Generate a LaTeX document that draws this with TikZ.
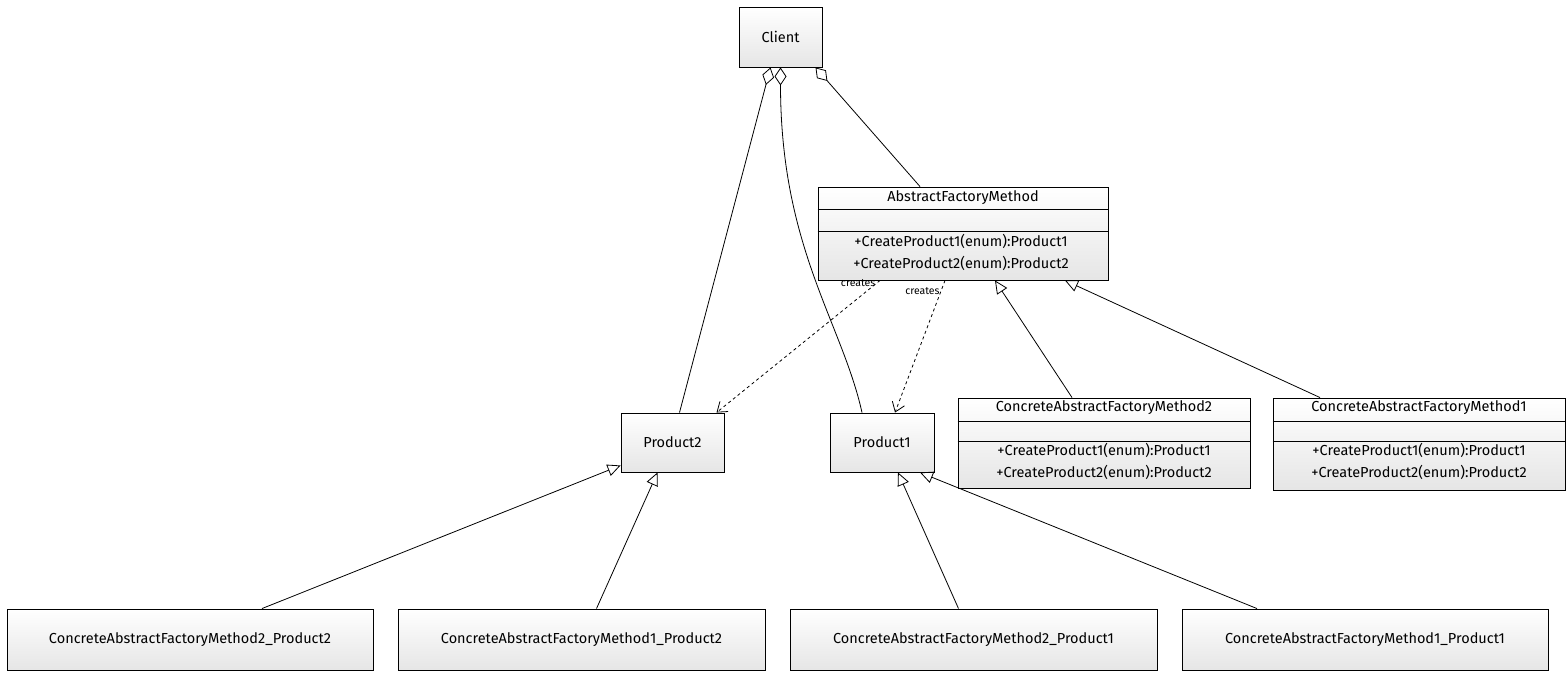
\documentclass[tikz,border=0pt]{standalone}
\usepackage{fontspec}
\setmainfont{Fira Sans}
\usetikzlibrary{arrows.meta,calc}
\begin{document}
\begin{tikzpicture}[x=1pt,y=-1pt,
  box/.style={draw,line width=0.9pt,top color=white,bottom color=gray!20,rectangle,inner sep=0pt,font=\fontsize{14.5}{16}\selectfont},
  conn/.style={line width=0.8pt},
  agg/.style={conn,{Diamond[open,length=18pt,width=12pt]}-},
  gen/.style={conn,-{Triangle[open,length=13pt,width=12pt]}},
  dep/.style={conn,dashed,-{Straight Barb[length=9pt,width=13pt]}},
  lbl/.style={font=\fontsize{10.5}{12}\selectfont,inner sep=1pt}]
\useasboundingbox (0,0) rectangle (1568,675);
% simple boxes
\node[box,minimum width=83pt,minimum height=60pt] (client) at (780.5,37) {Client};
\node[box,minimum width=103pt,minimum height=59pt] (p2) at (672.5,442.5) {Product2};
\node[box,minimum width=104pt,minimum height=59pt] (p1) at (882,442.5) {Product1};
\node[box,minimum width=366pt,minimum height=61pt] (b1) at (190,639.5) {ConcreteAbstractFactoryMethod2\_Product2};
\node[box,minimum width=367pt,minimum height=61pt] (b2) at (581.5,639.5) {ConcreteAbstractFactoryMethod1\_Product2};
\node[box,minimum width=367pt,minimum height=61pt] (b3) at (973.5,639.5) {ConcreteAbstractFactoryMethod2\_Product1};
\node[box,minimum width=366pt,minimum height=61pt] (b4) at (1365,639.5) {ConcreteAbstractFactoryMethod1\_Product1};
% class boxes
\node[box,minimum width=290pt,minimum height=93pt] (afm) at (963,233.5) {};
\node[box,minimum width=292pt,minimum height=90pt] (c2) at (1104,443) {};
\node[box,minimum width=292pt,minimum height=92pt] (c1) at (1419,444) {};
\foreach \n/\a/\b in {afm/23/45, c2/24/44, c1/24/44}{
  \draw[line width=0.8pt] ($(\n.north west)+(0,\a)$) -- ($(\n.north east)+(0,\a)$);
  \draw[line width=0.8pt] ($(\n.north west)+(0,\b)$) -- ($(\n.north east)+(0,\b)$);
}
\begin{scope}[font=\fontsize{14.5}{16}\selectfont]
\node (afmt) at ($(afm.north)+(0,11)$) {AbstractFactoryMethod};
\node (afmo1) at ($(afm.north)+(-2,55)$) {+CreateProduct1(enum):Product1};
\node (afmo2) at ($(afm.north)+(-2,77)$) {+CreateProduct2(enum):Product2};
\node (c2t) at ($(c2.north)+(0,10)$) {ConcreteAbstractFactoryMethod2};
\node (c2o1) at ($(c2.north)+(0,53)$) {+CreateProduct1(enum):Product1};
\node (c2o2) at ($(c2.north)+(0,75)$) {+CreateProduct2(enum):Product2};
\node (c1t) at ($(c1.north)+(0,10)$) {ConcreteAbstractFactoryMethod1};
\node (c1o1) at ($(c1.north)+(0,53)$) {+CreateProduct1(enum):Product1};
\node (c1o2) at ($(c1.north)+(0,75)$) {+CreateProduct2(enum):Product2};
\end{scope}
% aggregations
\draw[agg] ($(client.south)+(-10,0)$) -- ($(p2.north)+(7,0)$);
\draw[agg] ($(client.south)+(0,0)$) .. controls ($(client.south)+(0,180)$) and ($(p1.north)+(-40,-90)$) .. ($(p1.north)+(-20,0)$);
\draw[agg] ($(client.south)+(35,0)$) -- ($(afm.north)+(-43,0)$);
% dependencies
\draw[dep] ($(afm.south)+(-83,0)$) -- node[lbl,pos=0.02,left] (cr1) {creates} ($(p2.north)+(44,0)$);
\draw[dep] ($(afm.south)+(-18,0)$) -- node[lbl,pos=0.08,left] (cr2) {creates} ($(p1.north)+(13,0)$);
% generalizations
\draw[gen] ($(c2.north)+(-32,0)$) -- ($(afm.south)+(32,0)$);
\draw[gen] ($(c1.north)+(-99,0)$) -- ($(afm.south)+(102,0)$);
\draw[gen] ($(b1.north)+(72,0)$) -- ($(p2.south west)+(0,-7)$);
\draw[gen] ($(b2.north)+(15,0)$) -- ($(p2.south)+(-15,0)$);
\draw[gen] ($(b3.north)+(-15,0)$) -- ($(p1.south)+(16,0)$);
\draw[gen] ($(b4.north)+(-108,0)$) -- ($(p1.south)+(38,0)$);
\end{tikzpicture}
\end{document}
